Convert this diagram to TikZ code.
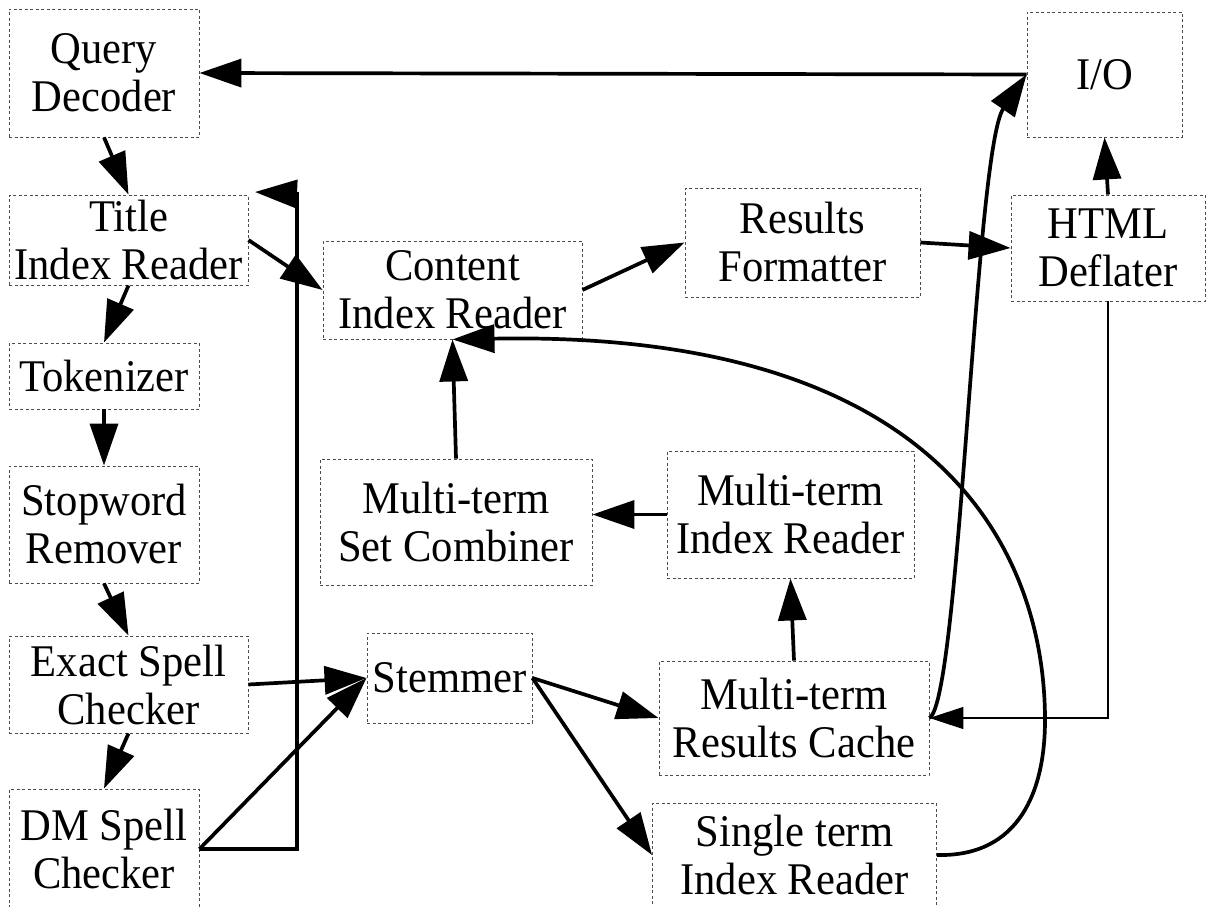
\documentclass[tikz,border=0pt]{standalone}
\usepackage{fontspec}
\setmainfont{Liberation Serif}[FakeStretch=0.94]
\usetikzlibrary{arrows.meta}

\tikzset{
  blk/.style={draw=black!70, dash pattern=on 3pt off 2.5pt, line width=0.9pt,
    align=center, inner sep=0pt, font=\fontsize{45.3}{48}\selectfont},
  flow/.style={line width=3.7pt, -{Triangle[length=42pt,width=28pt]}},
  thinflow/.style={line width=1.3pt, -{Triangle[length=34pt,width=22pt]}}
}

\begin{document}
\begin{tikzpicture}[x=1pt,y=-1pt]
\useasboundingbox (0,0) rectangle (1208,907);

% left column
\node[blk, minimum width=190pt, minimum height=128pt] (qd) at (104,73) {Query\\Decoder};
\node[blk, minimum width=239pt, minimum height=90pt] (title) at (128.5,240) {Title\\Index Reader};
\node[blk, minimum width=190pt, minimum height=66pt] (tok) at (104,376) {Tokenizer};
\node[blk, minimum width=190pt, minimum height=117pt] (stop) at (104,524.5) {Stopword\\Remover};
\node[blk, minimum width=239pt, minimum height=97pt] (exact) at (128.5,684.5) {Exact Spell\\Checker};
\node[blk, minimum width=190pt, minimum height=120pt] (dm) at (104,849) {DM Spell\\Checker};

% middle and right
\node[blk, minimum width=259pt, minimum height=98pt] (content) at (452.5,290) {Content\\Index Reader};
\node[blk, minimum width=235pt, minimum height=109pt] (results) at (802.5,242.5) {Results\\Formatter};
\node[blk, minimum width=155pt, minimum height=125pt] (io) at (1104.5,74.5) {I/O};
\node[blk, minimum width=194pt, minimum height=106pt] (html) at (1108,248) {HTML\\Deflater};
\node[blk, minimum width=272pt, minimum height=126pt] (comb) at (456,522) {Multi-term\\Set Combiner};
\node[blk, minimum width=247pt, minimum height=127pt] (mir) at (790.5,514.5) {Multi-term\\Index Reader};
\node[blk, minimum width=165pt, minimum height=90pt] (stem) at (449.5,678) {Stemmer};
\node[blk, minimum width=270pt, minimum height=114pt] (cache) at (794,718) {Multi-term\\Results Cache};
\node[blk, minimum width=284pt, minimum height=104pt] (single) at (794.5,855) {Single term\\Index Reader};

\coordinate (tturn) at (297,194);
\coordinate (ttip) at (255,192);

\draw[flow] (io.west) -- (qd.east);
\draw[flow] (qd.south) -- (title.north);
\draw[flow] (title.south) -- (tok.north);
\draw[flow] (tok.south) -- (stop.north);
\draw[flow] (stop.south) -- (exact.north);
\draw[flow] (exact.south) -- (dm.north);
\draw[flow] (dm.east) -| (tturn) -- (ttip);
\draw[flow] (title.east) -- (content.west);
\draw[flow] (content.east) -- (results.west);
\draw[flow] (results.east) -- (html.west);
\draw[flow] (html.north) -- (io.south);
\draw[flow] (exact.east) -- (stem.west);
\draw[flow] (dm.east) -- (stem.west);
\draw[flow] (stem.east) -- (cache.west);
\draw[flow] (stem.east) -- (single.west);
\draw[flow] (cache.north) -- (mir.south);
\draw[flow] (mir.west) -- (mir.west -| comb.east);
\draw[flow] (comb.north) -- (content.south);
\draw[thinflow] (html.south) |- (cache.east);
\draw[flow] (cache.east) .. controls (960,700) and (975,150) .. (io.west);
\draw[flow] (single.east) .. controls (1020,857) and (1045,790) .. (1045,720)
  .. controls (1045,560) and (950,330) .. (content.south);
\end{tikzpicture}
\end{document}
